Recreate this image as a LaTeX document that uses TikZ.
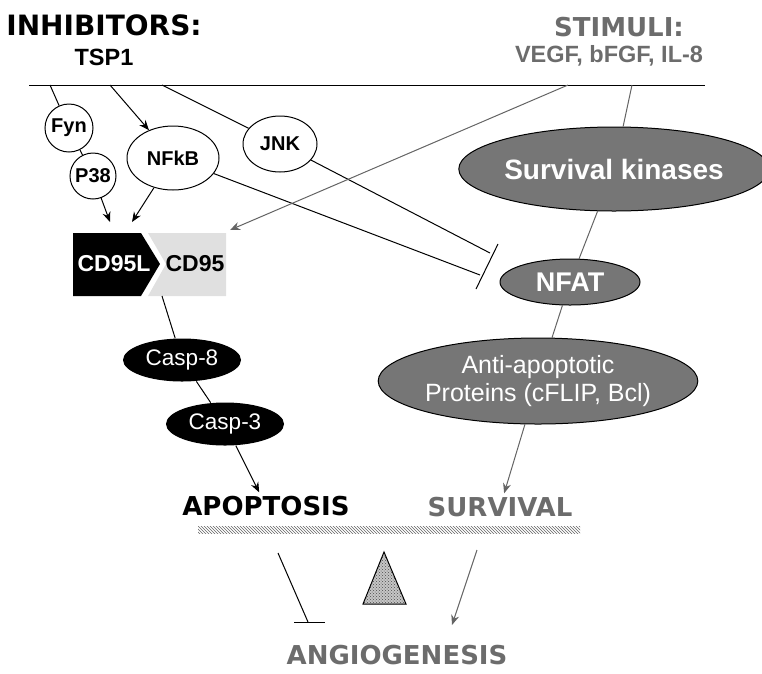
\documentclass[tikz,border=0pt]{standalone}
\usepackage{fontspec}
\setmainfont{Liberation Sans}
\newfontfamily\comicfont{DejaVu Sans}
\usetikzlibrary{shapes.geometric,arrows.meta,patterns}
\definecolor{kingray}{RGB}{118,118,118}
\definecolor{txtgray}{RGB}{108,108,108}
\definecolor{linegray}{RGB}{100,100,100}
\definecolor{boxgray}{RGB}{224,224,224}
\tikzset{
  mol/.style={draw,ellipse,inner sep=0pt,font=\fontsize{20}{22}\selectfont\bfseries},
  ring/.style={draw,circle,inner sep=0pt,font=\fontsize{20}{22}\selectfont\bfseries},
  kin/.style={draw,ellipse,fill=kingray,text=white,inner sep=0pt},
  casp/.style={ellipse,fill=black,text=white,inner sep=0pt,minimum width=118pt,minimum height=43pt,font=\fontsize{22.5}{24}\selectfont},
  head/.style={font=\comicfont\bfseries\fontsize{26}{30}\selectfont},
  fact/.style={font=\fontsize{23.5}{26}\selectfont\bfseries},
  act/.style={-{Stealth[length=10pt,width=8pt]}},
  gline/.style={draw=linegray},
  gact/.style={draw=linegray,-{Stealth[length=10pt,width=8pt]}}
}
\begin{document}
\begin{tikzpicture}[x=1pt,y=-1pt,line width=1pt]
\useasboundingbox (0,0) rectangle (762,673);

\node[head,font=\comicfont\bfseries\fontsize{28}{30}\selectfont] (inhib) at (104,25) {INHIBITORS:};
\node[fact] (tsp) at (104,57) {TSP1};
\node[head,text=txtgray] (stim) at (619,27) {STIMULI:};
\node[fact,text=txtgray] (vegf) at (609,56) {VEGF, bFGF, IL-8};

\coordinate (topl) at (29,85);
\coordinate (topr) at (705,85);
\draw (topl) -- (topr);
\coordinate (t1) at (50,85);
\coordinate (t2) at (110,85);
\coordinate (t3) at (162,85);
\coordinate (t4) at (568,85);
\coordinate (t5) at (632,85);

\node[ring,minimum size=48pt] (fyn) at (69,128) {Fyn};
\node[ring,minimum size=46pt] (p38) at (93,176) {P38};
\node[mol,minimum width=92pt,minimum height=64pt] (nfkb) at (173,158) {NFkB};
\node[mol,minimum width=74pt,minimum height=56pt] (jnk) at (280,144) {JNK};

\fill (73,233) -- (141,233) -- (160,264) -- (141,296) -- (73,296) -- cycle;
\fill[boxgray] (148,233) -- (226,233) -- (226,296) -- (148,296) -- (166,264) -- cycle;
\node[fact,text=white,font=\fontsize{23}{24}\selectfont\bfseries] (cd95l) at (114,264) {CD95L};
\node[fact,font=\fontsize{23}{24}\selectfont\bfseries] (cd95) at (195,264) {CD95};
\coordinate (p38in) at (110,222);
\coordinate (nfkbin) at (132,222);
\coordinate (cdin) at (230,230);
\coordinate (cdbot) at (162,296);

\node[kin,minimum width=290pt,minimum height=84pt,font=\fontsize{28}{30}\selectfont\bfseries] (sk) at (614,169) {Survival kinases};
\node[kin,minimum width=140pt,minimum height=46pt,font=\fontsize{27}{30}\selectfont\bfseries] (nfat) at (570,282) {NFAT};
\node[kin,minimum width=286pt,minimum height=86pt,align=center,font=\fontsize{25}{28}\selectfont] (anti) at (538,381) {Anti-apoptotic\\Proteins (cFLIP, Bcl)};
\coordinate (bara) at (498,244);
\coordinate (barb) at (476,289);
\coordinate (bar1) at (490,253);
\coordinate (bar2) at (480,275);

\node[casp] (casp8) at (182,360) {Casp-8};
\node[casp] (casp3) at (225,424) {Casp-3};

\node[head] (apop) at (266,506) {APOPTOSIS};
\node[head,text=txtgray] (surv) at (500,507) {SURVIVAL};
\node[head,text=txtgray] (angio) at (397,655) {ANGIOGENESIS};

\draw (t1) -- (fyn);
\draw (fyn) -- (p38);
\draw[act] (p38) -- (p38in);
\draw[act] (t2) -- (nfkb);
\draw[act] (nfkb) -- (nfkbin);
\draw (t3) -- (jnk);
\draw (jnk) -- (bar1);
\draw (nfkb) -- (bar2);
\draw (bara) -- (barb);
\draw[gact] (t4) -- (cdin);
\draw[gline] (t5) -- (sk);
\draw[gline] (sk) -- (nfat);
\draw[gline] (nfat) -- (anti);
\draw[gact] (anti) -- (surv);
\draw (cdbot) -- (casp8);
\draw (casp8) -- (casp3);
\draw[act] (casp3) -- (apop);

\fill[pattern=north west lines,pattern color=linegray] (198,526) rectangle (580,533);
\draw[preaction={fill=gray!45},pattern=crosshatch dots,pattern color=gray!60!black] (384,552) -- (406,604) -- (363,604) -- cycle;

\coordinate (i1) at (278,553);
\coordinate (i2) at (308,622);
\coordinate (ibl) at (294,622);
\coordinate (ibr) at (325,622);
\draw (i1) -- (i2);
\draw (ibl) -- (ibr);
\coordinate (g1) at (477,550);
\coordinate (g2) at (452,625);
\draw[gact] (g1) -- (g2);
\end{tikzpicture}
\end{document}
